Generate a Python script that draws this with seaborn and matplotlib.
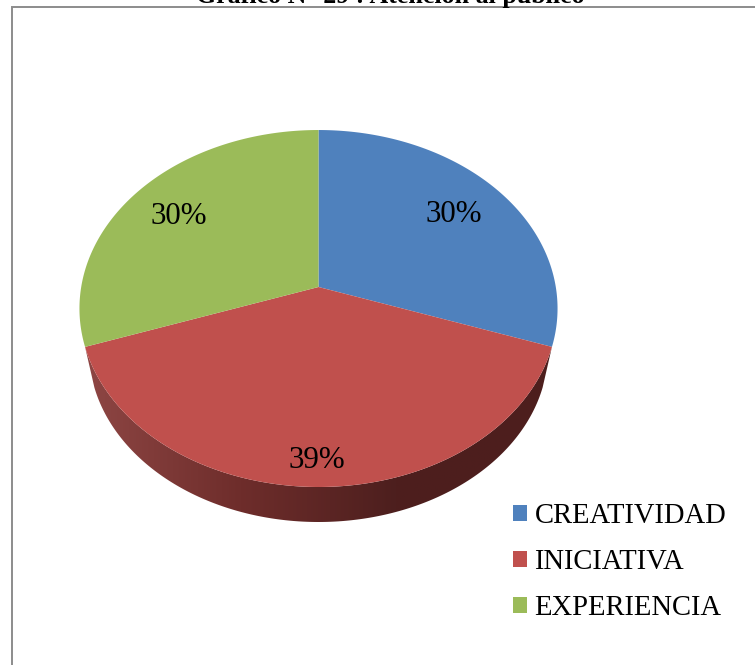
import numpy as np
import matplotlib
matplotlib.use("Agg")
import matplotlib.pyplot as plt
import seaborn as sns
from matplotlib.colors import LinearSegmentedColormap
from matplotlib.patches import Polygon
from matplotlib.path import Path
from matplotlib.transforms import Transform

# Survey shares
categories = ["CREATIVIDAD", "INICIATIVA", "EXPERIENCIA"]
shares = [30, 39, 30]
title_text = "Gráfico N° 29 : Atención al público"

sns.set_theme(style="white")
plt.rcParams["font.family"] = ["Liberation Serif", "DejaVu Serif"]
palette = sns.color_palette(["#4F81BD", "#C0504D", "#9BBB59"])


class TiltedDisc(Transform):
    """Perspective view of the unit disc, output in figure pixels (y down)."""
    input_dims = output_dims = 2

    def __init__(self, scale=1.0, drop=0.0):
        super().__init__()
        self.scale, self.drop = scale, drop

    def transform_non_affine(self, values):
        x, y = np.asarray(values).T
        w = 1 + 0.1205 * y
        px = 318.5 + self.scale * 237.3 * x / w
        py = 287 + self.drop - self.scale * 175.9 * y / w
        return np.column_stack([px, py])

    def transform_path_non_affine(self, path):
        pts = []
        for curve, _ in path.iter_bezier():
            pts.append(curve(np.linspace(0, 1, 60)))
        return Path(self.transform_non_affine(np.vstack(pts)))


fig, ax = plt.subplots(figsize=(7.55, 6.65), dpi=100)
fig.subplots_adjust(0, 0, 1, 1)

wedges, _, pct = ax.pie(
    shares, labels=categories, labeldistance=None, colors=palette,
    startangle=90, counterclock=False, autopct="%d%%",
    wedgeprops={"linewidth": 0, "zorder": 3},
    textprops={"fontsize": 22.3, "color": "black", "zorder": 4},
)
ax.set_aspect("auto")
ax.set_xlim(0, 755)
ax.set_ylim(665, 0)

top_face = TiltedDisc()
for w in wedges:
    w.set_transform(top_face + ax.transData)

# Percentage labels, placed on the disc before the tilt is applied
label_spots = [(0.599, 0.432), (-0.0075, -0.88), (-0.62, 0.424)]
for t, spot in zip(pct, label_spots):
    t.set_position(spot)
    t.set_transform(top_face + ax.transData)

# Side wall below the front slice, shaded from left to right
front = wedges[1]
arc = np.deg2rad(np.linspace(front.theta1, front.theta2, 240))
rim = np.column_stack([np.cos(arc), np.sin(arc)])
upper = top_face.transform_non_affine(rim)
lower = TiltedDisc(scale=0.96, drop=43).transform_non_affine(rim)
wall = Polygon(np.vstack([upper, lower[::-1]]), closed=True,
               facecolor="none", edgecolor="none", zorder=2)
ax.add_patch(wall)
shade = LinearSegmentedColormap.from_list(
    "wall", ["#8E4644", "#6E2D2B", "#4D1F1E", "#4D1E1D"], N=256)
im = ax.imshow(np.linspace(0, 1, 256)[None, :], cmap=shade, aspect="auto",
               extent=(85, 552, 530, 340), zorder=2)
im.set_clip_path(wall)
ax.set_xlim(0, 755)
ax.set_ylim(665, 0)

# Surrounding frame, open on the right and at the bottom
ax.plot([11.5, 11.5, 755], [665, 7, 7], color="#8C8C8C", lw=1.4, zorder=1,
        solid_joinstyle="miter")

leg = ax.legend(
    loc="lower left", bbox_to_anchor=(513 / 755, 1 - 621 / 665),
    frameon=False, fontsize=20.6, handlelength=0.5, handleheight=0.5,
    handletextpad=0.25, labelspacing=0.693, borderpad=0, borderaxespad=0,
    labelcolor="black",
)

fig.text(390.5 / 755, 1 - 3 / 665, title_text, ha="center", va="baseline",
         fontsize=18.6, fontweight="bold", color="black")

fig.savefig("out.png", dpi=100, facecolor="white")
